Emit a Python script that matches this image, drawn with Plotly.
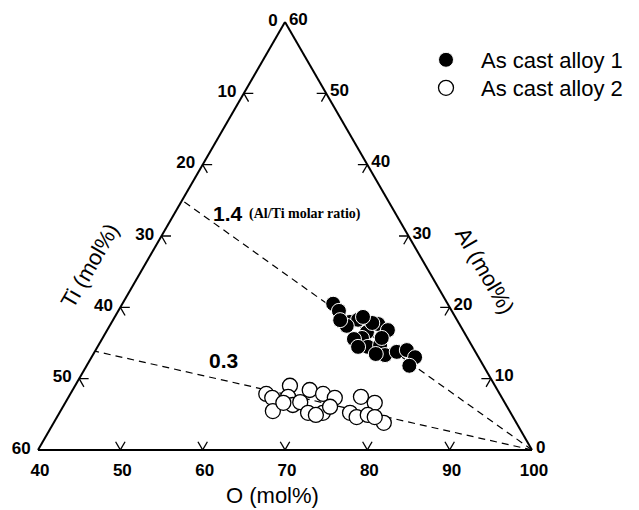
import plotly.graph_objects as go

# ---- data (mol%) ----
alloy1_O  = [65.6, 66.8, 68.9, 69.75, 68.8, 71.7, 72.5, 74.1, 71.5, 70.6, 72.85, 74.2,
             75.5, 74.3, 76.7, 77.8, 79.3, 79.2, 71.65, 73.9, 71.7, 70.15, 67.6]
alloy1_Ti = [13.9, 13.7, 13.15, 12.0, 13.8, 11.8, 9.85, 9.1, 12.8, 13.85, 12.7, 11.1,
             11.2, 12.25, 9.55, 8.2, 7.7, 9.0, 13.9, 10.4, 10.5, 11.2, 14.2]
alloy1_Al = [20.5, 19.5, 17.95, 18.25, 17.4, 16.5, 17.65, 16.8, 15.7, 15.55, 14.45, 14.7,
             13.3, 13.45, 13.75, 14.0, 13.0, 11.8, 14.45, 15.7, 17.8, 18.65, 18.2]

alloy2_O  = [63.8, 64.8, 65.8, 66.1, 66.65, 67.8, 68.5, 68.8, 70.2, 70.7, 72.4, 72.0,
             71.3, 66.5, 75.5, 77.6, 75.3, 76.4, 77.6, 80.1, 78.6, 72.45]
alloy2_Ti = [28.35, 27.9, 28.75, 24.9, 25.9, 25.9, 24.8, 22.8, 24.6, 21.45, 20.3, 22.8,
             23.8, 26.9, 17.05, 15.8, 19.5, 19.0, 17.5, 16.1, 16.8, 21.5]
alloy2_Al = [7.85, 7.3, 5.45, 9.0, 7.45, 6.3, 6.7, 8.4, 5.2, 7.85, 7.3, 5.2,
             4.9, 6.6, 7.45, 6.6, 5.2, 4.6, 4.9, 3.8, 4.6, 6.05]

ratios = [1.4, 0.3]                     # Al/Ti molar ratio guide lines
ratio_labels = ["1.4", "0.3"]

ti_ticks = [0, 10, 20, 30, 40, 50, 60]
o_ticks = [40, 50, 60, 70, 80, 90, 100]
al_ticks = [0, 10, 20, 30, 40, 50, 60]

O_MIN = 40
SPAN = 100 - O_MIN

W, H = 639, 510

fig = go.Figure()

# guide lines from the O corner to the left edge (O = 40)
for r in ratios:
    ti_end = SPAN / (1 + r)
    al_end = SPAN * r / (1 + r)
    fig.add_trace(go.Scatterternary(
        a=[0, al_end], b=[0, ti_end], c=[100, O_MIN], mode="lines",
        line=dict(color="black", width=1.2, dash="7px,5px"),
        showlegend=False, hoverinfo="skip"))

# chevron tick marks along the edges
L = 1.15
ta, tb, tc = [], [], []
def seg(p, q):
    for (al, ti, o) in (p, q):
        ta.append(al); tb.append(ti); tc.append(o)
    ta.append(None); tb.append(None); tc.append(None)

for t in ti_ticks[1:-1]:           # left edge (O = 40)
    seg((SPAN - t, t, O_MIN), (SPAN - t, t - L, O_MIN + L))
    seg((SPAN - t, t, O_MIN), (SPAN - t - L, t, O_MIN + L))
for o in o_ticks[1:-1]:            # bottom edge (Al = 0)
    seg((0, 100 - o, o), (L, 100 - o - L, o))
    seg((0, 100 - o, o), (L, 100 - o, o - L))
for al in al_ticks[1:-1]:          # right edge (Ti = 0)
    seg((al, 0, 100 - al), (al, L, 100 - al - L))
    seg((al, 0, 100 - al), (al - L, L, 100 - al))

fig.add_trace(go.Scatterternary(a=ta, b=tb, c=tc, mode="lines",
                                line=dict(color="black", width=1.3),
                                connectgaps=False, showlegend=False, hoverinfo="skip"))

fig.add_trace(go.Scatterternary(
    a=alloy2_Al, b=alloy2_Ti, c=alloy2_O, mode="markers", name="As cast alloy 2",
    legend="legend2",
    marker=dict(size=15, color="white", line=dict(color="black", width=1.3))))
fig.add_trace(go.Scatterternary(
    a=alloy1_Al, b=alloy1_Ti, c=alloy1_O, mode="markers", name="As cast alloy 1",
    legend="legend",
    marker=dict(size=15, color="black", line=dict(color="white", width=1))))

tickfont = dict(family="Liberation Sans", size=17, color="black", weight="bold")
axis_common = dict(showgrid=False, showline=True, linecolor="black", linewidth=2,
                   ticks="outside", tickcolor="rgba(0,0,0,0)",
                   tickfont=tickfont, title=dict(text=""))

leg_common = dict(xanchor="left", yanchor="middle", itemwidth=60,
                  font=dict(family="Liberation Sans", size=22, color="black"),
                  bgcolor="rgba(0,0,0,0)", borderwidth=0)

fig.update_layout(
    width=W, height=H,
    margin=dict(l=0, r=0, t=0, b=0),
    paper_bgcolor="white",
    ternary=dict(
        sum=100,
        domain=dict(x=[38 / W, 532 / W], y=[1 - 450 / H, 1 - 22 / H]),
        bgcolor="white",
        aaxis=dict(min=0, tickmode="array", tickvals=[SPAN - t for t in ti_ticks],
                   ticktext=[str(t) for t in ti_ticks], ticklen=4, **axis_common),
        baxis=dict(min=0, tickmode="array", tickvals=[100 - o for o in o_ticks],
                   ticktext=[str(o) for o in o_ticks], ticklen=4, **axis_common),
        caxis=dict(min=O_MIN, tickmode="array", tickvals=[100 - al for al in al_ticks],
                   ticktext=[str(al) for al in al_ticks], ticklen=1, **axis_common),
    ),
    legend=dict(x=411 / W, y=1 - 60 / H, **leg_common),
    legend2=dict(x=411 / W, y=1 - 88 / H, **leg_common),
    showlegend=True,
)

def note(x, y, text, font, angle=0, xanchor="center"):
    fig.add_annotation(x=x / W, y=1 - y / H, xref="paper", yref="paper",
                       xanchor=xanchor, yanchor="middle", text=text,
                       textangle=angle, showarrow=False, font=font)

title_font = dict(family="Liberation Sans", size=22, color="black")
note(89, 266, "Ti (mol%)", title_font, angle=-60)
note(485, 270, "Al (mol%)", title_font, angle=60)
note(272, 495, "O (mol%)", title_font)

lab_font = dict(family="Liberation Sans", size=21, color="black", weight="bold")
note(211, 213, ratio_labels[0], lab_font, xanchor="left")
note(247, 214, "(Al/Ti molar ratio)",
     dict(family="Liberation Serif", size=14, color="black", weight="bold"), xanchor="left")
note(207, 360, ratio_labels[1], lab_font, xanchor="left")

fig.write_html("out.html")
